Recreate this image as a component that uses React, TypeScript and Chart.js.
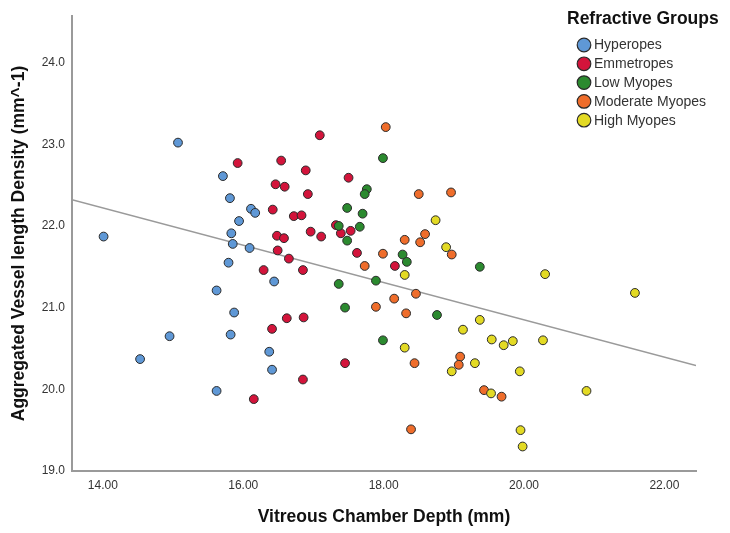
import React, { useEffect, useRef } from 'react';
import { Chart, registerables } from 'chart.js';

Chart.register(...registerables);

const FONT = '"Liberation Sans", Arial, Helvetica, sans-serif';

const legendTitle = 'Refractive Groups';
const groupNames = ['Hyperopes', 'Emmetropes', 'Low Myopes', 'Moderate Myopes', 'High Myopes'];
const groupColors = ['#5f98d6', '#d3143b', '#2b8a2f', '#ef6d2b', '#e3da24'];

const xTickValues = [14, 16, 18, 20, 22];
const yTickValues = [19, 20, 21, 22, 23, 24];
const xRange = [13.56, 22.45];
const yRange = [19.0, 24.57];

const hyperopesX = [14.01, 15.07, 14.53, 14.95, 15.62, 15.62, 15.87, 15.82, 15.79, 16.37, 16.41, 16.44, 15.71, 15.81, 16.11, 16.17, 15.94, 15.83, 15.85, 16.09];
const hyperopesY = [21.87, 23.02, 20.37, 20.65, 19.98, 21.21, 20.94, 20.67, 21.55, 20.46, 20.24, 21.32, 22.61, 22.34, 22.21, 22.16, 22.06, 21.91, 21.78, 21.73];

const emmetropesX = [17.09, 15.92, 16.54, 16.89, 16.46, 16.59, 16.92, 16.42, 16.72, 16.83, 16.96, 17.11, 16.48, 16.58, 16.49, 16.65, 16.29, 16.85, 16.62, 16.86, 16.41, 16.85, 16.15, 17.45, 17.50, 17.32, 17.39, 17.53, 17.62, 18.16];
const emmetropesY = [23.11, 22.77, 22.80, 22.68, 22.51, 22.48, 22.39, 22.20, 22.12, 22.13, 21.93, 21.87, 21.88, 21.85, 21.70, 21.60, 21.46, 21.46, 20.87, 20.88, 20.74, 20.12, 19.88, 20.32, 22.59, 22.01, 21.91, 21.94, 21.67, 21.51];

const lowMyopesX = [17.99, 17.76, 17.73, 17.48, 17.70, 17.36, 17.66, 17.48, 18.27, 18.33, 19.37, 17.36, 17.89, 17.45, 18.76, 17.99];
const lowMyopesY = [22.83, 22.45, 22.39, 22.22, 22.15, 22.00, 21.99, 21.82, 21.65, 21.56, 21.50, 21.29, 21.33, 21.00, 20.91, 20.60];

const moderateMyopesX = [18.03, 18.50, 18.96, 18.59, 18.30, 18.52, 18.97, 17.99, 17.73, 18.46, 18.15, 17.89, 18.32, 19.09, 18.44, 19.07, 18.39, 19.43, 19.68];
const moderateMyopesY = [23.21, 22.39, 22.41, 21.90, 21.83, 21.80, 21.65, 21.66, 21.51, 21.17, 21.11, 21.01, 20.93, 20.40, 20.32, 20.30, 19.51, 19.99, 19.91];

const highMyopesX = [18.74, 18.89, 18.30, 19.37, 19.13, 18.30, 19.30, 18.97, 20.30, 21.58, 19.54, 19.71, 19.84, 20.27, 19.94, 19.53, 20.89, 19.95, 19.98];
const highMyopesY = [22.07, 21.74, 21.40, 20.85, 20.73, 20.51, 20.32, 20.22, 21.41, 21.18, 20.61, 20.54, 20.59, 20.60, 20.22, 19.95, 19.98, 19.50, 19.30];

const fitLineX = [13.56, 22.45];
const fitLineY = [22.32, 20.29];

const xTitle = 'Vitreous Chamber Depth (mm)';
const yTitle = 'Aggregated Vessel length Density (mm^-1)';

const groupXs = [hyperopesX, emmetropesX, lowMyopesX, moderateMyopesX, highMyopesX];
const groupYs = [hyperopesY, emmetropesY, lowMyopesY, moderateMyopesY, highMyopesY];

const toPoints = (xs: number[], ys: number[]) => xs.map((x, i) => ({ x, y: ys[i] }));

const legendPlugin = {
  id: 'groupLegend',
  afterDraw(chart: any) {
    const ctx = chart.ctx as CanvasRenderingContext2D;
    ctx.save();
    ctx.textBaseline = 'middle';
    ctx.textAlign = 'left';
    ctx.fillStyle = '#111';
    ctx.font = `bold 17.5px ${FONT}`;
    ctx.fillText(legendTitle, 567, 19);
    ctx.font = `14px ${FONT}`;
    groupNames.forEach((name, i) => {
      const cy = 45 + i * 18.8;
      ctx.beginPath();
      ctx.arc(584, cy, 6.8, 0, Math.PI * 2);
      ctx.fillStyle = groupColors[i];
      ctx.fill();
      ctx.lineWidth = 1.2;
      ctx.strokeStyle = '#2a2a2a';
      ctx.stroke();
      ctx.fillStyle = '#333';
      ctx.fillText(name, 594, cy + 0.5);
    });
    ctx.restore();
  },
};

export default function App() {
  const canvasRef = useRef<HTMLCanvasElement | null>(null);

  useEffect(() => {
    document.body.style.margin = '0';
    document.body.style.overflow = 'hidden';
    const canvas = canvasRef.current;
    if (!canvas) return;

    const datasets: any[] = groupNames.map((name, i) => ({
      type: 'scatter',
      label: name,
      data: toPoints(groupXs[i], groupYs[i]),
      backgroundColor: groupColors[i],
      borderColor: '#2a2a2a',
      borderWidth: 1,
      pointRadius: 4.4,
      order: 5 - i,
    }));
    datasets.push({
      type: 'line',
      label: 'Fit',
      data: toPoints(fitLineX, fitLineY),
      borderColor: '#9a9a9a',
      borderWidth: 1.5,
      pointRadius: 0,
      fill: false,
      order: 10,
    });

    const chart = new Chart(canvas, {
      type: 'scatter',
      data: { datasets },
      options: {
        animation: false,
        responsive: false,
        devicePixelRatio: 1,
        layout: { padding: { top: 16, right: 34, left: 0, bottom: 0 } },
        plugins: {
          legend: { display: false },
          tooltip: { enabled: false },
        },
        scales: {
          x: {
            type: 'linear',
            min: xRange[0],
            max: xRange[1],
            afterBuildTicks: (scale: any) => {
              scale.ticks = xTickValues.map((v) => ({ value: v }));
            },
            afterFit: (scale: any) => {
              scale.height = 62;
            },
            grid: { display: false, drawTicks: false },
            border: { display: true, color: '#9a9a9a', width: 2 },
            ticks: {
              padding: 7,
              color: '#333',
              font: { family: FONT, size: 12 },
              callback: (v: any) => Number(v).toFixed(2),
            },
            title: {
              display: true,
              text: xTitle,
              color: '#111',
              font: { family: FONT, size: 17.5, weight: 'bold' },
              padding: { top: 0, bottom: 5 },
            },
          },
          y: {
            type: 'linear',
            min: yRange[0],
            max: yRange[1],
            afterBuildTicks: (scale: any) => {
              scale.ticks = yTickValues.map((v) => ({ value: v }));
            },
            afterFit: (scale: any) => {
              scale.width = 72;
            },
            grid: { display: false, drawTicks: false },
            border: { display: true, color: '#9a9a9a', width: 2 },
            ticks: {
              padding: 7,
              color: '#333',
              font: { family: FONT, size: 12 },
              callback: (v: any) => Number(v).toFixed(1),
            },
            title: {
              display: true,
              text: yTitle,
              color: '#111',
              font: { family: FONT, size: 17.5, weight: 'bold' },
              padding: { top: 9, bottom: 0 },
            },
          },
        },
      },
      plugins: [legendPlugin],
    });

    return () => chart.destroy();
  }, []);

  return (
    <div style={{ width: 730, height: 533, background: '#fff' }}>
      <canvas ref={canvasRef} width={730} height={533} style={{ display: 'block' }} />
    </div>
  );
}
